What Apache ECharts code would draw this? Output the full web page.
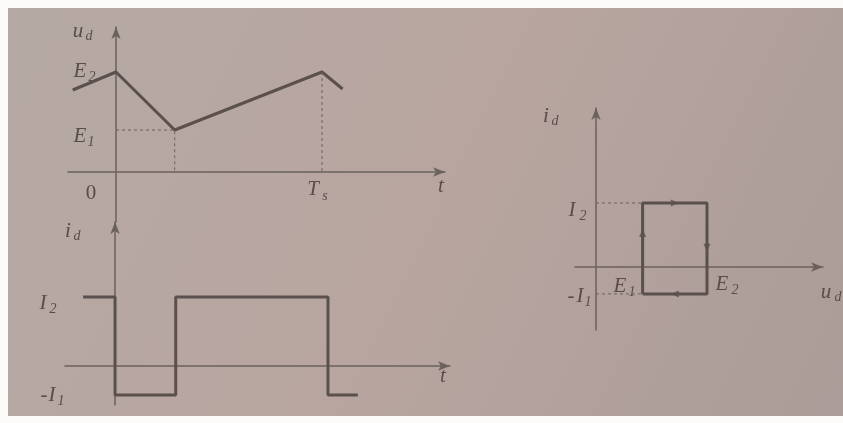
<!DOCTYPE html>
<html>
<head>
<meta charset="utf-8">
<script src="https://cdn.jsdelivr.net/npm/echarts@6/dist/echarts.min.js"></script>
<style>
    html, body { margin: 0; padding: 0; background: #fbfaf8; }
    #charts {
        position: absolute;
        left: 8px;
        top: 8px;
        width: 835px;
        height: 408px;
    }
</style>
</head>
<body>
<div id="charts"></div>
<script>
// levels (E2 = 1, I2 = 1, Ts = 1)
var E1 = 0.42, E2 = 1, I1 = 0.42, I2 = 1, D = 0.285;

// u_d waveform
var uTime = [-0.21, 0, D, 1, 1.1];
var uVal = [0.82, E2, E1, E2, 0.83];

// i_d waveform
var iTime = [-0.15, 0, 0, D, D, 1, 1, 1.14];
var iVal = [I2, I2, -I1, -I1, I2, I2, -I1, -I1];

// i_d - u_d loop
var loopU = [E1, E1, E2, E2, E1];
var loopI = [-I1, I2, I2, -I1, -I1];
var loopArrowU = [0.71, E2, 0.71, E1];
var loopArrowI = [I2, 0.3, -I1, 0.53];
var loopArrowRot = [-90, 180, 90, 0];

var lineCol = '#5a504d';
var axisCol = '#6b615d';
var textCol = '#574d4a';

var chartDom = document.getElementById('charts');
var myChart = echarts.init(chartDom);

function zip(a, b) {
    return a.map(function (v, i) { return [v, b[i]]; });
}

function axisX(idx, min, max) {
    return {
        type: 'value', gridIndex: idx, min: min, max: max,
        axisLine: { onZero: true, symbol: ['none', 'arrow'], symbolSize: [7, 12], lineStyle: { color: axisCol, width: 1.5 } },
        axisTick: { show: false }, axisLabel: { show: false }, splitLine: { show: false }
    };
}
function axisY(idx, min, max, arrow) {
    return {
        type: 'value', gridIndex: idx, min: min, max: max,
        axisLine: { onZero: true, symbol: ['none', arrow ? 'arrow' : 'none'], symbolSize: [7, 12], lineStyle: { color: axisCol, width: 1.5 } },
        axisTick: { show: false }, axisLabel: { show: false }, splitLine: { show: false }
    };
}

// label with optional subscript, positions in picture pixels
var OFF = 8;
var labels = [];
function lab(x, y, main, sub, italic, sx, sy) {
    labels.push({
        type: 'text', x: x - OFF, y: y - OFF,
        style: { text: main, fontSize: 21, fontFamily: 'Liberation Serif', fontStyle: italic === false ? 'normal' : 'italic', fill: textCol, align: 'center', verticalAlign: 'middle' }
    });
    if (sub) {
        labels.push({
            type: 'text', x: sx - OFF, y: sy - OFF,
            style: { text: sub, fontSize: 14, fontFamily: 'Liberation Serif', fontStyle: 'italic', fill: textCol, align: 'center', verticalAlign: 'middle' }
        });
    }
}
lab(78, 31, 'u', 'd', true, 89, 36);
lab(80, 71, 'E', '2', true, 92, 77);
lab(80, 136, 'E', '1', true, 91, 142);
lab(91, 193, '0', null, false);
lab(313, 189, 'T', 's', true, 325, 196);
lab(441, 186, 't', null);
lab(68, 231, 'i', 'd', true, 77, 236);
lab(43, 303, 'I', '2', true, 53, 309);
lab(44, 395, '-', null, false);
lab(52, 395, 'I', '1', true, 61, 401);
lab(443, 376, 't', null);
lab(546, 116, 'i', 'd', true, 555, 121);
lab(572, 210, 'I', '2', true, 583, 216);
lab(571, 296, '-', null, false);
lab(580, 296, 'I', '1', true, 588, 302);
lab(620, 286, 'E', '1', true, 632, 292);
lab(722, 284, 'E', '2', true, 735, 290);
lab(826, 292, 'u', 'd', true, 838, 297);

var option = {
    backgroundColor: new echarts.graphic.LinearGradient(0, 0, 1, 1, [
        { offset: 0, color: '#b5a9a3' },
        { offset: 0.5, color: '#b8a5a0' },
        { offset: 1, color: '#aa9c98' }
    ]),
    animation: false,
    grid: [
        { left: 60, top: 19, width: 377, height: 195, containLabel: false },
        { left: 57, top: 214, width: 385, height: 183, containLabel: false },
        { left: 567, top: 100, width: 248, height: 222, containLabel: false }
    ],
    xAxis: [
        axisX(0, -0.233, 1.597),
        axisX(1, -0.235, 1.573),
        axisX(2, -0.189, 2.045)
    ],
    yAxis: [
        axisY(0, -0.5, 1.45, true),
        axisY(1, -0.565, 2.087, true),
        axisY(2, -0.984, 2.484, true)
    ],
    graphic: labels,
    series: [
        {
            type: 'line', xAxisIndex: 0, yAxisIndex: 0, showSymbol: false,
            lineStyle: { color: lineCol, width: 3 },
            data: zip(uTime, uVal)
        },
        {
            type: 'line', xAxisIndex: 0, yAxisIndex: 0, showSymbol: false,
            lineStyle: { color: axisCol, width: 1, type: [3, 3] },
            data: [[0, E1], [D, E1], [D, 0]]
        },
        {
            type: 'line', xAxisIndex: 0, yAxisIndex: 0, showSymbol: false,
            lineStyle: { color: axisCol, width: 1, type: [3, 3] },
            data: [[1, E2], [1, 0]]
        },
        {
            type: 'line', xAxisIndex: 1, yAxisIndex: 1, showSymbol: false,
            lineStyle: { color: lineCol, width: 3 },
            data: zip(iTime, iVal)
        },
        {
            type: 'line', xAxisIndex: 2, yAxisIndex: 2, showSymbol: false,
            lineStyle: { color: axisCol, width: 1, type: [3, 3] },
            data: [[0, I2], [E1, I2]]
        },
        {
            type: 'line', xAxisIndex: 2, yAxisIndex: 2, showSymbol: false,
            lineStyle: { color: axisCol, width: 1, type: [3, 3] },
            data: [[0, -I1], [E1, -I1]]
        },
        {
            type: 'line', xAxisIndex: 2, yAxisIndex: 2, showSymbol: false,
            lineStyle: { color: lineCol, width: 3 },
            data: zip(loopU, loopI)
        },
        {
            type: 'scatter', xAxisIndex: 2, yAxisIndex: 2,
            symbol: 'triangle', symbolSize: [7, 8],
            itemStyle: { color: lineCol },
            data: loopArrowU.map(function (u, i) {
                return { value: [u, loopArrowI[i]], symbolRotate: loopArrowRot[i] };
            })
        }
    ]
};
option && myChart.setOption(option);
</script>
</body>
</html>
